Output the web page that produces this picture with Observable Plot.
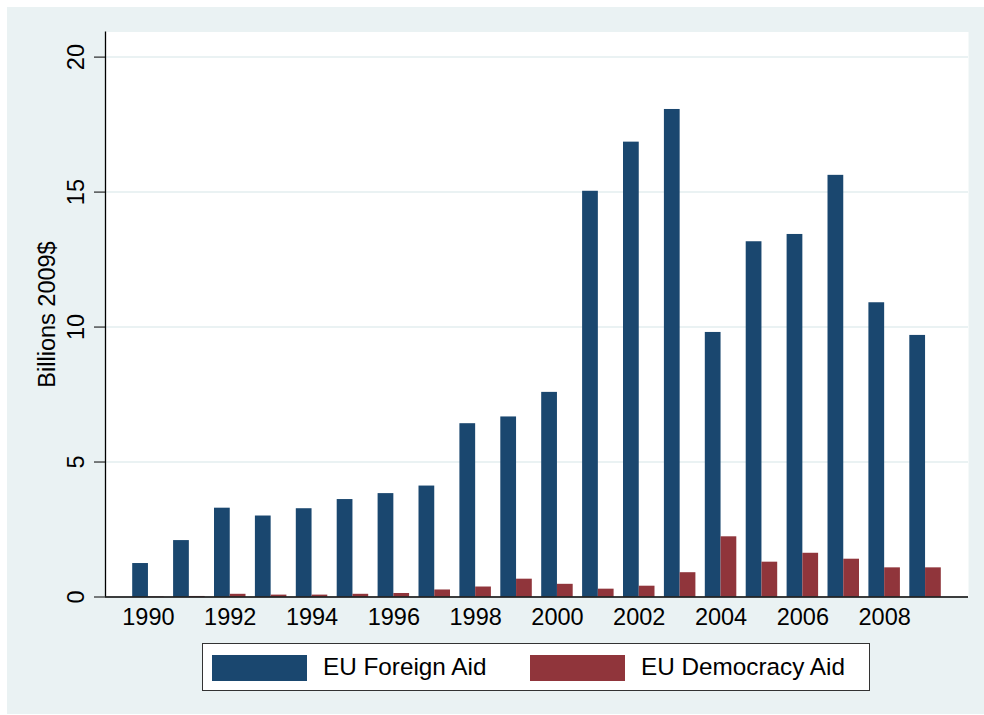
<!DOCTYPE html>
<html>
<head>
<meta charset="utf-8">
<script src="https://cdn.jsdelivr.net/npm/d3@7"></script>
<script src="https://cdn.jsdelivr.net/npm/@observablehq/plot@0.6"></script>
<style>
  html, body { margin: 0; padding: 0; background: #ffffff; }
  #wrap { position: relative; width: 984px; height: 715px; overflow: hidden;
          font-family: "Liberation Sans", Arial, Helvetica, sans-serif; }
  #bg { position: absolute; left: 7px; top: 7px; right: 0; bottom: 1px; background: #eaf2f3; }
  #chart { position: absolute; left: 0; top: 0; }
  #legend { position: absolute; left: 202px; top: 643px; width: 666px; height: 46px;
            border: 1px solid #333; background: #fff; box-sizing: content-box; }
  .sw { position: absolute; top: 11px; width: 95px; height: 26px; }
  .lt { position: absolute; top: 8px; font-size: 24.3px; line-height: 30px; color: #000; white-space: nowrap; }
</style>
</head>
<body>
<div id="wrap">
  <div id="bg"></div>
  <div id="chart"></div>
  <div id="legend"></div>
</div>
<script>
// ---- data ----
const years = [1990, 1991, 1992, 1993, 1994, 1995, 1996, 1997, 1998, 1999,
               2000, 2001, 2002, 2003, 2004, 2005, 2006, 2007, 2008, 2009];
const foreignAid = [1.24, 2.09, 3.29, 3.00, 3.27, 3.61, 3.83, 4.11, 6.42, 6.67,
                    7.58, 15.03, 16.85, 18.06, 9.80, 13.16, 13.43, 15.62, 10.90, 9.69];
const democracyAid = [0.01, 0.02, 0.10, 0.07, 0.07, 0.10, 0.13, 0.26, 0.37, 0.66,
                      0.47, 0.29, 0.40, 0.90, 2.23, 1.29, 1.62, 1.40, 1.08, 1.08];
const seriesNames = ["EU Foreign Aid", "EU Democracy Aid"];
const seriesColors = ["#1a476f", "#90353b"];
const xTicks = [1990, 1992, 1994, 1996, 1998, 2000, 2002, 2004, 2006, 2008];
const yTicks = [0, 5, 10, 15, 20];
const yLabel = "Billions 2009$";

// scale extents (Stata-style padding around the bars)
const xDomain = [1988.95, 2010.05];
const yDomain = [0, 20.93];
const halfBar = 0.385; // width of each bar, in years

const rows = years.map((year, i) => ({year, foreign: foreignAid[i], democracy: democracyAid[i]}));

const chart = Plot.plot({
  width: 984,
  height: 640,
  marginLeft: 105,
  marginRight: 16,
  marginTop: 31.5,
  marginBottom: 43.5,
  style: {background: "transparent", fontFamily: "'Liberation Sans', Arial, Helvetica, sans-serif", fontSize: "23px", color: "#000"},
  x: {domain: xDomain, axis: null},
  y: {domain: yDomain, axis: null},
  marks: [
    Plot.frame({fill: "white", stroke: null}),
    Plot.gridY(yTicks, {stroke: "#eaf2f3", strokeOpacity: 1, strokeWidth: 2}),
    Plot.rectY(rows, {x1: d => d.year - halfBar, x2: d => d.year, y: "foreign", fill: seriesColors[0]}),
    Plot.rectY(rows, {x1: d => d.year, x2: d => d.year + halfBar, y: "democracy", fill: seriesColors[1]}),
    Plot.ruleY([0], {stroke: "black", strokeWidth: 1.3}),
    Plot.ruleX([xDomain[0]], {stroke: "black", strokeWidth: 1.3}),
    Plot.axisX(xTicks, {tickSize: 0, tickPadding: 11, tickFormat: d => String(d), fontSize: 23.5, label: null}),
    Plot.axisY(yTicks, {tickSize: 11, tickPadding: 11, tickRotate: -90, fontSize: 23.5, stroke: "black",
                        label: yLabel, labelAnchor: "center", labelOffset: 67, labelArrow: "none"})
  ]
});
document.getElementById("chart").appendChild(chart);

// legend
const legend = document.getElementById("legend");
const swLeft = [9, 327];
const txLeft = [120, 438];
seriesNames.forEach((name, i) => {
  const sw = document.createElement("div");
  sw.className = "sw";
  sw.style.left = swLeft[i] + "px";
  sw.style.background = seriesColors[i];
  legend.appendChild(sw);
  const t = document.createElement("div");
  t.className = "lt";
  t.style.left = txLeft[i] + "px";
  t.textContent = name;
  legend.appendChild(t);
});
</script>
</body>
</html>
